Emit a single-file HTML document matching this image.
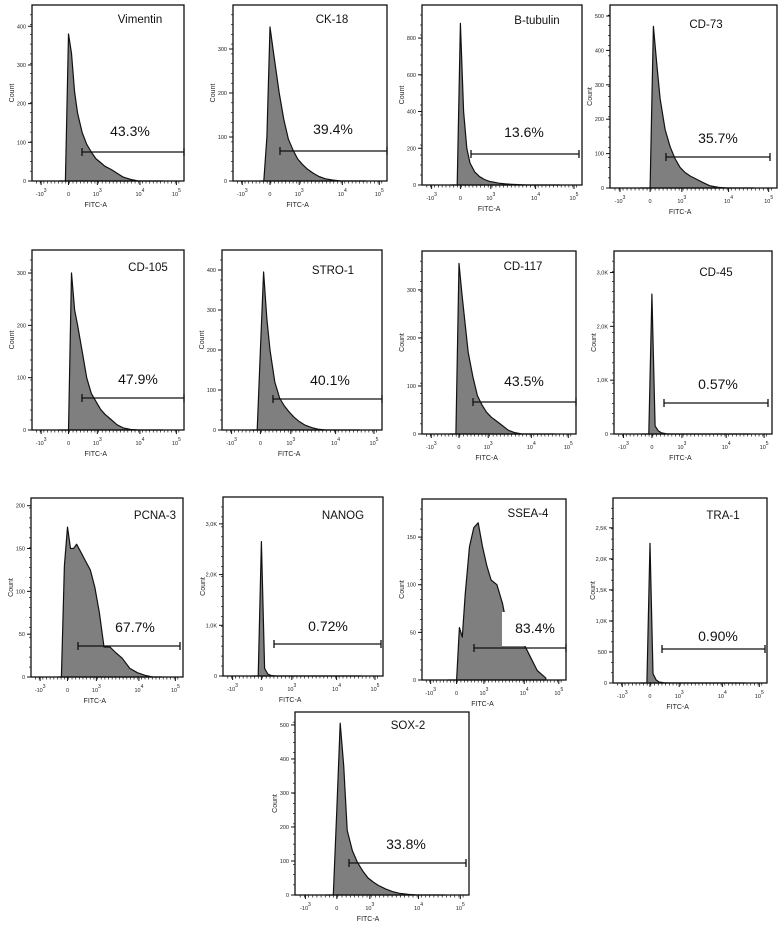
<!DOCTYPE html>
<html><head><meta charset="utf-8">
<style>
html,body{margin:0;padding:0;background:#fff;}
svg{display:block;font-family:"Liberation Sans",sans-serif;}
</style></head>
<body>
<svg id="fig" width="778" height="935" viewBox="0 0 778 935" xmlns="http://www.w3.org/2000/svg"></svg>
<script>
// shared x positions of histogram bins (fraction of FITC-A axis)
const binPos = [0.18,0.20,0.22,0.24,0.26,0.28,0.30,0.33,0.36,0.39,0.42,0.45,0.48,0.52,0.56,0.60,0.65,0.70,0.75,0.80,0.86];
const markers = ["Vimentin","CK-18","B-tubulin","CD-73","CD-105","STRO-1","CD-117","CD-45","PCNA-3","NANOG","SSEA-4","TRA-1","SOX-2"];
const percents = ["43.3%","39.4%","13.6%","35.7%","47.9%","40.1%","43.5%","0.57%","67.7%","0.72%","83.4%","0.90%","33.8%"];
const yMaxes = [455,400,980,532,344,450,381,3400,209,3530,190,2980,538];
const yTicks = [
 [0,100,200,300,400],[0,100,200,300],[0,200,400,600,800],[0,100,200,300,400,500],
 [0,100,200,300],[0,100,200,300,400],[0,100,200,300],[0,1000,2000,3000],
 [0,50,100,150,200],[0,1000,2000,3000],[0,50,100,150],[0,500,1000,1500,2000,2500],[0,100,200,300,400,500]];
const yTickLabels = [
 ["0","100","200","300","400"],["0","100","200","300"],["0","200","400","600","800"],["0","100","200","300","400","500"],
 ["0","100","200","300"],["0","100","200","300","400"],["0","100","200","300"],["0","1,0K","2,0K","3,0K"],
 ["0","50","100","150","200"],["0","1,0K","2,0K","3,0K"],["0","50","100","150"],["0","500","1,0K","1,5K","2,0K","2,5K"],["0","100","200","300","400","500"]];
const counts = [
 [0,0,0,380,330,230,175,125,95,75,58,48,38,30,20,10,4,0,0,0,0],
 [0,0,100,350,300,250,200,140,95,70,50,38,28,18,10,5,2,0,0,0,0],
 [0,0,0,880,400,200,120,70,45,30,20,15,10,6,4,2,0,0,0,0,0],
 [0,0,0,0,470,360,260,170,120,85,60,45,35,25,15,6,2,0,0,0,0],
 [0,0,0,0,300,230,200,150,100,70,55,40,30,20,10,4,1,0,0,0,0],
 [0,0,0,200,395,280,200,120,80,60,45,32,22,12,6,2,0,0,0,0,0],
 [0,0,0,355,290,230,170,120,80,60,45,35,28,18,8,3,0,0,0,0,0],
 [0,0,0,2600,150,60,20,5,0,0,0,0,0,0,0,0,0,0,0,0,0],
 [0,0,130,175,150,150,155,145,135,125,105,75,35,35,28,22,10,5,2,0,0],
 [0,0,0,2650,150,40,10,0,0,0,0,0,0,0,0,0,0,0,0,0,0],
 [0,0,0,0,55,45,90,140,160,165,140,120,105,100,80,48,45,40,25,10,2],
 [0,0,0,2250,150,50,15,5,0,0,0,0,0,0,0,0,0,0,0,0,0],
 [0,0,0,250,505,380,190,130,95,70,50,38,28,18,10,5,2,0,0,0,0]];

// layout (pixels): box [left, top, right, bottom], gate [x1,x2,y], percent label [x,y], title [x,y]
const boxes = [[32,5,184,181],[233,5,387,181],[422,5,582,185],[610,5,777,188],
 [32,250,184,430],[222,250,382,430],[422,251,576,434],[614,251,772,434],
 [31,498,183,677],[223,497,383,676],[422,499,566,680],[613,498,767,683],[295,712,469,895]];
const gates = [[82,184,152],[280,387,151],[471,579,154],[666,770,157],
 [82,184,398],[273,382,399],[473,576,402],[664,768,403],
 [78,180,646],[274,381,644],[474,566,648],[662,765,649],[349,466,863]];
const pctPos = [[130,136],[333,134],[524,137],[718,143],[138,384],[330,385],[524,386],[718,389],
 [135,632],[328,631],[535,633],[718,641],[406,849]];
const titlePos = [[140,23],[332,23],[537,24],[706,28],[148,271],[333,274],[523,270],[716,276],
 [155,519],[343,519],[528,517],[723,519],[408,729]];
const xTickFrac = [0.06,0.24,0.43,0.71,0.95];

const NS = "http://www.w3.org/2000/svg";
const svg = document.getElementById("fig");
function mk(tag, attrs, parent){
  const e = document.createElementNS(NS, tag);
  for (const k in attrs) e.setAttribute(k, attrs[k]);
  (parent||svg).appendChild(e);
  return e;
}

markers.forEach((name, i) => {
  const [L,T,R,B] = boxes[i];
  const W = R-L, H = B-T;
  const xs = f => L + f*W;
  const ys = v => B - v/yMaxes[i]*H;
  const g = mk("g", {});
  
  

  // histogram
  let d = "M" + xs(binPos[0]).toFixed(1) + "," + B;
  binPos.forEach((p, j) => { d += " L" + xs(p).toFixed(1) + "," + ys(counts[i][j]).toFixed(1); });
  d += " L" + xs(binPos[binPos.length-1]).toFixed(1) + "," + B + " Z";
  const h = mk("path", {d: d, fill: "#7f7f7f", stroke: "#111", "stroke-width": 1.2, "stroke-linejoin": "round"}, g);
  
  

  // frame
  const fr = mk("rect", {x: L, y: T, width: W, height: H, fill: "none", stroke: "#111", "stroke-width": 1.3}, g);
  
  

  // y ticks
  yTicks[i].forEach((v, j) => {
    const y = ys(v);
    mk("line", {x1: L-4, x2: L, y1: y, y2: y, stroke: "#111", "stroke-width": 1}, g);
    const t = mk("text", {x: L-6, y: y+2, "font-size": 5.5, "text-anchor": "end", fill: "#222"}, g);
    t.textContent = yTickLabels[i][j];
    
    
  });
  for (let k = 1; k < 18; k++) {
    const y = B - k*H/18;
    mk("line", {x1: L-2, x2: L, y1: y, y2: y, stroke: "#111", "stroke-width": 0.7}, g);
  }
  const cl = mk("text", {x: 0, y: 0, "font-size": 7, "text-anchor": "middle", fill: "#222",
    transform: "translate(" + (L-18) + "," + ((T+B)/2) + ") rotate(-90)"}, g);
  cl.textContent = "Count";
  
  

  // x ticks
  const xl = [["-10","3"],["0",""],["10","3"],["10","4"],["10","5"]];
  xTickFrac.forEach((f, j) => {
    const x = xs(f);
    mk("line", {x1: x, x2: x, y1: B, y2: B+4, stroke: "#111", "stroke-width": 1}, g);
    const t = mk("text", {x: x, y: B+15, "font-size": 5.5, "text-anchor": "middle", fill: "#222"}, g);
    
    
    const a = mk("tspan", {}, t); a.textContent = xl[j][0];
    if (xl[j][1]) { const s = mk("tspan", {dy: -4, "font-size": 5}, t); s.textContent = xl[j][1]; }
  });
  for (let k = 0; k < 40; k++) {
    const f = 0.03 + k*0.024;
    if (f > 0.99) break;
    mk("line", {x1: xs(f), x2: xs(f), y1: B, y2: B+2.5, stroke: "#111", "stroke-width": 0.7}, g);
  }
  const fx = mk("text", {x: L+0.42*W, y: B+26, "font-size": 7, "text-anchor": "middle", fill: "#222"}, g);
  fx.textContent = "FITC-A";
  
  

  // percentage label background (SSEA-4 has a white box over the histogram)
  if (name === "SSEA-4") {
    const bg = mk("rect", {x: 502, y: 612, width: 63, height: 34, fill: "#fff"}, g);
    
    
  }

  // gate
  const [g1,g2,gy] = gates[i];
  const gl = mk("path", {d: "M"+g1+","+gy+" H"+g2+" M"+g1+","+(gy-4)+" V"+(gy+4)+" M"+g2+","+(gy-4)+" V"+(gy+4),
    stroke: "#111", "stroke-width": 1.3, fill: "none"}, g);
  
  
  const pt = mk("text", {x: pctPos[i][0], y: pctPos[i][1], "font-size": 14, "text-anchor": "middle", fill: "#111"}, g);
  pt.textContent = percents[i];
  
  

  const tt = mk("text", {x: titlePos[i][0], y: titlePos[i][1], "font-size": 11.5, "text-anchor": "middle", fill: "#111"}, g);
  tt.textContent = name;
  
  
});
</script>
</body></html>
